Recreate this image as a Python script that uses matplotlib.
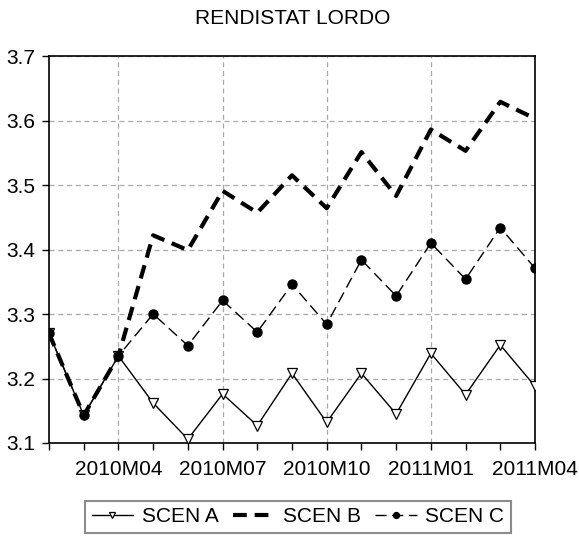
import matplotlib
matplotlib.use("Agg")
import matplotlib.pyplot as plt
import numpy as np

plt.rcParams['font.family'] = ['Liberation Sans', 'DejaVu Sans']

months = ["2010M02", "2010M03", "2010M04", "2010M05", "2010M06", "2010M07",
          "2010M08", "2010M09", "2010M10", "2010M11", "2010M12", "2011M01",
          "2011M02", "2011M03", "2011M04"]
scen_a = [3.270, 3.143, 3.235, 3.162, 3.106, 3.176, 3.127, 3.208, 3.132,
          3.208, 3.145, 3.239, 3.175, 3.252, 3.188]
scen_b = [3.270, 3.143, 3.235, 3.422, 3.399, 3.491, 3.457, 3.515, 3.464,
          3.551, 3.483, 3.586, 3.553, 3.629, 3.603]
scen_c = [3.270, 3.143, 3.235, 3.300, 3.251, 3.321, 3.272, 3.346, 3.284,
          3.384, 3.328, 3.410, 3.354, 3.434, 3.371]
labeled = ["2010M04", "2010M07", "2010M10", "2011M01", "2011M04"]
yticks = [3.1, 3.2, 3.3, 3.4, 3.5, 3.6, 3.7]
title = "RENDISTAT LORDO"

W, H = 579, 538
FS = 15
fig = plt.figure(figsize=(W / 100, H / 100), dpi=100)
ax = fig.add_axes([49 / W, 1 - 443 / H, (535 - 49) / W, (443 - 56) / H])

x = np.arange(len(months))
la, = ax.plot(x, scen_a, color='black', lw=1.0, marker='v', ms=7,
              mfc='white', mec='black', mew=0.9, label='SCEN A', zorder=3)
lb, = ax.plot(x, scen_b, color='black', lw=3.0, ls=(0, (3.3, 1.9)),
              label='SCEN B', zorder=4)
lc, = ax.plot(x, scen_c, color='black', lw=1.0, ls=(0, (8, 4)), marker='o',
              ms=6.5, mfc='black', mec='black', label='SCEN C', zorder=3)

ax.set_xlim(0, len(months) - 1)
ax.set_ylim(3.1, 3.7)
ax.set_yticks(yticks)
ax.set_yticklabels([f"{v:.1f}" for v in yticks])

major_idx = [months.index(m) for m in labeled]
ax.set_xticks(major_idx)
ax.set_xticklabels(labeled)
ax.set_xticks(x, minor=True)

ax.tick_params(axis='both', which='both', direction='out', length=5,
               width=1.0, labelsize=FS, colors='black')
ax.tick_params(axis='x', which='major', pad=7)
ax.tick_params(axis='y', which='major', pad=5)

ax.grid(True, which='major', color='#a8a8a8', ls=(0, (4, 3)), lw=0.9)
ax.set_axisbelow(True)
for s in ax.spines.values():
    s.set_linewidth(1.2)
    s.set_color('black')

fig.text(293 / W, 1 - 18 / H, title, ha='center', va='center', fontsize=FS)

leg = fig.legend(handles=[la, lb, lc], loc='center', ncol=3,
                 bbox_to_anchor=(298 / W, 1 - 517 / H), fontsize=FS,
                 frameon=True, fancybox=False, handlelength=2.0,
                 handletextpad=0.4, columnspacing=0.7, borderpad=0.3,
                 markerscale=0.65)
leg.get_frame().set_edgecolor('#707070')
leg.get_frame().set_linewidth(1.5)

fig.savefig("out.png", dpi=100)
